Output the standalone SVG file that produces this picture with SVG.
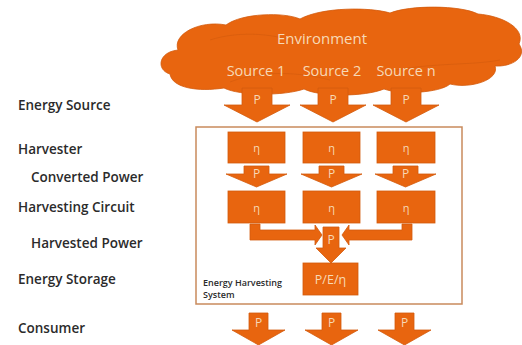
<svg xmlns="http://www.w3.org/2000/svg" width="522" height="345" viewBox="0 0 522 345">
<style>
.fill{fill:#E8650F;stroke:#D35A0C;stroke-width:0.8}
.lt{fill:#F7D9B6;font-family:"Open Sans","DejaVu Sans",sans-serif;text-anchor:middle}
.lbl{fill:#2b2b2b;font-family:"Open Sans","DejaVu Sans",sans-serif;font-weight:600;font-size:13.5px}
.sys{fill:#2b2b2b;font-family:"Open Sans","DejaVu Sans",sans-serif;font-weight:600;font-size:9px}
</style>
<rect width="522" height="345" fill="#ffffff"/>
<g id="labels">
<text class="lbl" x="18" y="110">Energy Source</text>
<text class="lbl" x="18" y="154">Harvester</text>
<text class="lbl" x="31" y="182">Converted Power</text>
<text class="lbl" x="18" y="212">Harvesting Circuit</text>
<text class="lbl" x="31" y="248">Harvested Power</text>
<text class="lbl" x="18" y="284">Energy Storage</text>
<text class="lbl" x="18" y="333">Consumer</text>
</g>
<g id="environment">
<path class="fill" stroke="#C9560C" d="M170,74 C156,70 158,52 178,50 C172,34 200,20 226,25 C242,13 284,12 300,19 C322,7 370,7 390,13 C410,5 460,5 478,14 C502,16 526,28 519,44 C528,57 512,67 495,66 C500,80 470,89 450,84 C440,93 400,95 384,89 C364,97 320,97 304,89 C284,96 240,96 224,88 C198,92 172,88 170,74 Z"/>
<path d="M230,82 C260,70 300,72 330,80 M380,74 C420,62 470,66 500,60 M210,40 C240,30 280,34 300,44" fill="none" stroke="#D65C0D" stroke-width="0.7"/>
<text class="lt" x="322" y="44" font-size="15">Environment</text>
<text class="lt" x="256" y="76" font-size="14.5">Source 1</text>
<text class="lt" x="332" y="76" font-size="14.5">Source 2</text>
<text class="lt" x="406" y="76" font-size="14.5">Source n</text>
</g>
<g id="source-arrows">
<path class="fill" d="M242,88 H272 V105 H290 L257,122 L224,105 H242 Z"/>
<path class="fill" d="M318,88 H348 V105 H366 L333,122 L300,105 H318 Z"/>
<path class="fill" d="M391,88 H421 V105 H439 L406,122 L373,105 H391 Z"/>
<text class="lt" x="257" y="104" font-size="12">P</text>
<text class="lt" x="333" y="104" font-size="12">P</text>
<text class="lt" x="406" y="104" font-size="12">P</text>
</g>
<g id="energy-harvesting-system">
<rect x="196" y="127" width="266" height="177" fill="none" stroke="#C98A5C" stroke-width="1.5"/>
<text class="sys" x="203" y="286">Energy Harvesting</text>
<text class="sys" x="203" y="298">System</text>
</g>
<g id="harvesters">
<rect class="fill" x="228" y="132" width="57" height="31"/>
<rect class="fill" x="303" y="132" width="57" height="31"/>
<rect class="fill" x="377" y="132" width="58" height="31"/>
<text class="lt" x="256.5" y="152" font-size="11">η</text>
<text class="lt" x="331.5" y="152" font-size="11">η</text>
<text class="lt" x="406" y="152" font-size="11">η</text>
</g>
<g id="converted-power">
<path class="fill" d="M244,166 H269 V174 H287 L256.5,187 L226,174 H244 Z"/>
<path class="fill" d="M319,166 H344 V174 H362 L331.5,187 L301,174 H319 Z"/>
<path class="fill" d="M393,166 H418 V174 H436 L405.5,187 L375,174 H393 Z"/>
<text class="lt" x="256.5" y="178" font-size="12">P</text>
<text class="lt" x="331.5" y="178" font-size="12">P</text>
<text class="lt" x="405.5" y="178" font-size="12">P</text>
</g>
<g id="harvesting-circuits">
<rect class="fill" x="228" y="191" width="57" height="32"/>
<rect class="fill" x="303" y="191" width="57" height="32"/>
<rect class="fill" x="377" y="191" width="58" height="32"/>
<text class="lt" x="256.5" y="212" font-size="11">η</text>
<text class="lt" x="331.5" y="212" font-size="11">η</text>
<text class="lt" x="406" y="212" font-size="11">η</text>
</g>
<g id="connectors">
<path class="fill" d="M250,224 H260 V230 H315 V225 L322,235 L315,245 V240 H250 Z"/>
<path class="fill" d="M402,224 H412 V240 H349 V245 L342,235 L349,225 V230 H402 Z"/>
<path class="fill" d="M323,227 H339 V248 H346 L331,263 L316,248 H323 Z"/>
<text class="lt" x="331" y="244" font-size="12">P</text>
</g>
<g id="energy-storage">
<rect class="fill" x="303" y="263" width="55" height="32"/>
<text class="lt" x="330.5" y="284" font-size="12.5">P/E/η</text>
</g>
<g id="consumer-arrows">
<path class="fill" d="M249,313 H268 V330 H285 L258.5,345 L232,330 H249 Z"/>
<path class="fill" d="M322,313 H341 V330 H358 L331.5,345 L305,330 H322 Z"/>
<path class="fill" d="M395,313 H414 V330 H431 L404.5,345 L378,330 H395 Z"/>
<text class="lt" x="258.5" y="327" font-size="12">P</text>
<text class="lt" x="331.5" y="327" font-size="12">P</text>
<text class="lt" x="404.5" y="327" font-size="12">P</text>
</g>
</svg>
